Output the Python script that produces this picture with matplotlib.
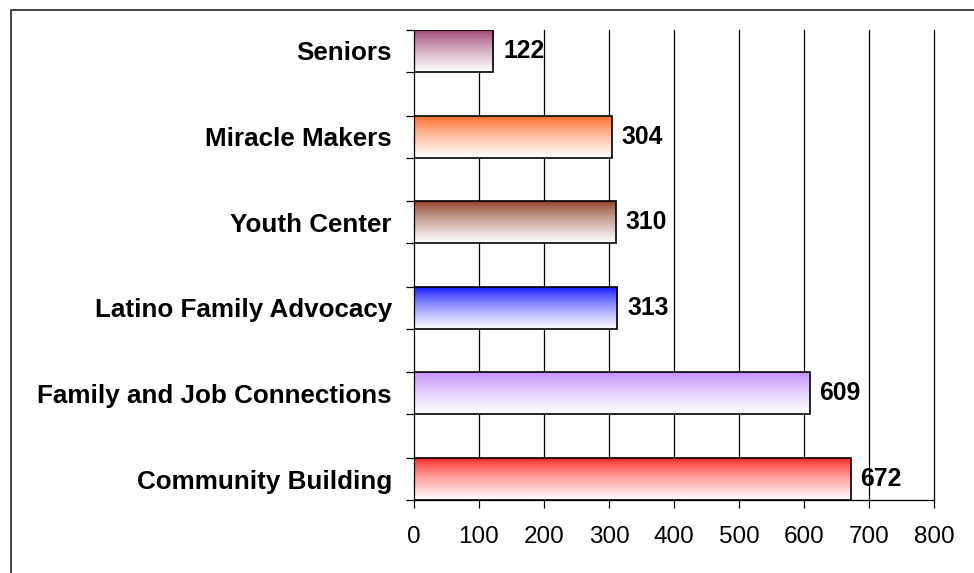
import matplotlib
matplotlib.use("Agg")
import matplotlib.pyplot as plt
import numpy as np
from matplotlib.colors import to_rgb
from matplotlib.patches import Rectangle

categories = ["Community Building", "Family and Job Connections", "Latino Family Advocacy",
              "Youth Center", "Miracle Makers", "Seniors"]
values = [672, 609, 313, 310, 304, 122]
colors = ["#FF2020", "#C08CF8", "#1010FF", "#8A3A22", "#FF6422", "#9A3C6E"]
xticks = [0, 100, 200, 300, 400, 500, 600, 700, 800]

plt.rcParams['font.family'] = ['Liberation Sans', 'DejaVu Sans']

fig = plt.figure(figsize=(9.74, 5.73), dpi=100)
ax = fig.add_axes([414/974, 1-500/573, (934-414)/974, (500-30)/573])

h = 0.49
ypos = np.arange(len(categories))

for x in xticks[1:]:
    ax.axvline(x, color="black", lw=0.9, zorder=1, clip_on=False)

for y, v, c in zip(ypos, values, colors):
    rgb = np.array(to_rgb(c))
    t = np.linspace(0, 1, 100)[:, None]
    w = t ** 0.75
    grad = (1 - w) * rgb + w * np.array([1.0, 1.0, 1.0])
    img = np.repeat(grad[:, None, :], 2, axis=1)
    ax.imshow(img, extent=[0, v, y - h/2, y + h/2], origin='upper', aspect='auto',
              zorder=2, interpolation='bilinear')
    ax.barh(y, v, height=h, facecolor='none', edgecolor='black', lw=1.2, zorder=3)
    ax.text(v + 15, y, str(v), va='center', ha='left', fontsize=17.8, fontweight='bold', zorder=4)

ax.set_xlim(0, 800)
ax.set_ylim(-h/2, len(categories) - 1 + h/2)
ax.set_xticks(xticks)
ax.set_xticklabels([str(x) for x in xticks], fontsize=17.5)
ax.set_yticks(ypos)
ax.set_yticklabels(categories, fontsize=18.7, fontweight='bold')
ax.set_yticks(np.concatenate([ypos - h/2, ypos + h/2]), minor=True)
ax.tick_params(axis='y', which='major', length=0, pad=16)
ax.tick_params(axis='y', which='minor', length=5.5, width=0.9)
ax.tick_params(axis='x', length=5.5, width=0.9, pad=13)
for s in ['top', 'right']:
    ax.spines[s].set_visible(False)
for s in ['left', 'bottom']:
    ax.spines[s].set_linewidth(0.9)

fig.patches.append(Rectangle((11/974, -0.1), 1.2, 1 - 10/573 + 0.1, transform=fig.transFigure,
                             fill=False, edgecolor='#222222', lw=1.2))

fig.savefig("out.png", dpi=100)
